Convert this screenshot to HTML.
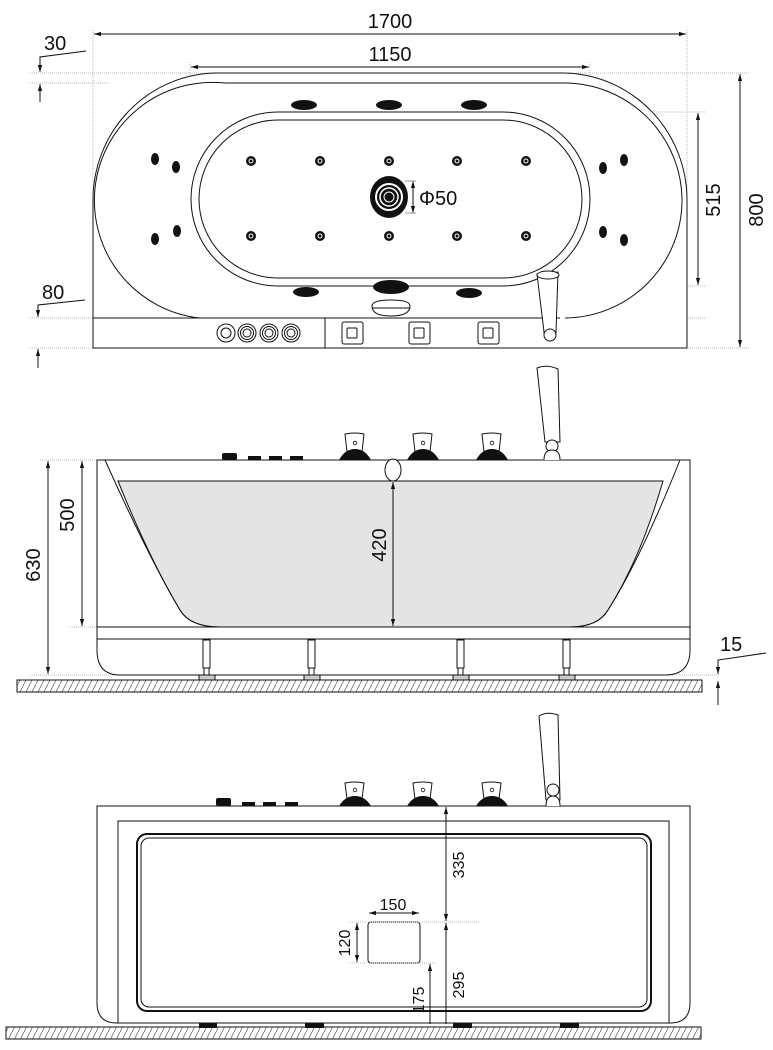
<!DOCTYPE html>
<html><head><meta charset="utf-8"><style>
html,body{margin:0;padding:0;background:#fff;}
svg{display:block;}
text{font-family:"Liberation Sans",Arial,sans-serif;fill:#111;}
</style></head><body>
<svg width="773" height="1050" viewBox="0 0 773 1050" xmlns="http://www.w3.org/2000/svg">
<defs>
<marker id="a" viewBox="0 0 10 10" refX="10" refY="5" markerWidth="7" markerHeight="7" orient="auto-start-reverse"><path d="M0,2 L10,5 L0,8 z" fill="#111"/></marker>
<pattern id="h" width="6" height="12" patternUnits="userSpaceOnUse"><path d="M0,12 L6,0" stroke="#555" stroke-width="0.7"/></pattern>
</defs>
<g fill="none" stroke="#111" stroke-width="1">
<g stroke="#bbb" stroke-dasharray="1,1">
<line x1="93" y1="30" x2="93" y2="348"/><line x1="687" y1="30" x2="687" y2="348"/>
<line x1="190" y1="62" x2="190" y2="318"/><line x1="590" y1="62" x2="590" y2="318"/>
<line x1="30" y1="73" x2="750" y2="73"/><line x1="30" y1="83" x2="110" y2="83"/>
<line x1="590" y1="112" x2="705" y2="112"/><line x1="590" y1="286" x2="705" y2="286"/>
<line x1="30" y1="318" x2="95" y2="318"/><line x1="30" y1="348" x2="750" y2="348"/>
<line x1="560" y1="318" x2="705" y2="318"/>
</g>
<line x1="94" y1="34" x2="686" y2="34" marker-start="url(#a)" marker-end="url(#a)"/>
<line x1="191" y1="67" x2="589" y2="67" marker-start="url(#a)" marker-end="url(#a)"/>
<path d="M93,348 V200 A125,127 0 0 1 218,73 H562 A125,127 0 0 1 687,200 V348 Z" fill="#fff"/>
<path d="M200,318 A118,118 0 0 1 225,83 H565 A118,118 0 0 1 682,200 A118,118 0 0 1 565,318"/>
<line x1="93" y1="318" x2="560" y2="318"/>
<line x1="325" y1="318" x2="325" y2="348"/>
<rect x="191" y="112" width="399" height="174" rx="87"/>
<rect x="199" y="120" width="383" height="158" rx="79"/>
<line x1="698" y1="113" x2="698" y2="285" marker-start="url(#a)" marker-end="url(#a)"/>
<line x1="740" y1="74" x2="740" y2="347" marker-start="url(#a)" marker-end="url(#a)"/>
<line x1="413" y1="181" x2="413" y2="213" marker-start="url(#a)" marker-end="url(#a)"/>
<line x1="405" y1="181" x2="416" y2="181" stroke="#999"/><line x1="405" y1="213" x2="416" y2="213" stroke="#999"/>
<path d="M86,51 L40,57 V62"/><line x1="40" y1="62" x2="40" y2="72" marker-end="url(#a)"/>
<line x1="40" y1="102" x2="40" y2="84" marker-end="url(#a)"/>
<path d="M85,300 L38,305 V310"/><line x1="38" y1="305" x2="38" y2="317" marker-end="url(#a)"/>
<line x1="38" y1="368" x2="38" y2="349" marker-end="url(#a)"/>
</g>
<g fill="#111">
<ellipse cx="304" cy="105" rx="13" ry="5"/><ellipse cx="389" cy="105" rx="13" ry="5"/><ellipse cx="474" cy="105" rx="13" ry="5"/>
<ellipse cx="306" cy="292" rx="13" ry="5"/><ellipse cx="469" cy="293" rx="13" ry="5"/>
<ellipse cx="391" cy="287" rx="18" ry="7"/>
<ellipse cx="155" cy="159" rx="4" ry="6"/><ellipse cx="176" cy="167" rx="4" ry="6"/>
<ellipse cx="155" cy="239" rx="4" ry="6"/><ellipse cx="177" cy="231" rx="4" ry="6"/>
<ellipse cx="603" cy="168" rx="4" ry="6"/><ellipse cx="624" cy="160" rx="4" ry="6"/>
<ellipse cx="603" cy="232" rx="4" ry="6"/><ellipse cx="624" cy="240" rx="4" ry="6"/>
<circle cx="251" cy="161" r="5"/><circle cx="320" cy="161" r="5"/><circle cx="389" cy="161" r="5"/><circle cx="457" cy="161" r="5"/><circle cx="526" cy="161" r="5"/>
<circle cx="251" cy="236" r="5"/><circle cx="320" cy="236" r="5"/><circle cx="389" cy="236" r="5"/><circle cx="457" cy="236" r="5"/><circle cx="526" cy="236" r="5"/>
<ellipse cx="389" cy="197" rx="19" ry="21"/>
</g>
<g fill="none" stroke="#fff" stroke-width="1">
<circle cx="251" cy="161" r="2"/><circle cx="320" cy="161" r="2"/><circle cx="389" cy="161" r="2"/><circle cx="457" cy="161" r="2"/><circle cx="526" cy="161" r="2"/>
<circle cx="251" cy="236" r="2"/><circle cx="320" cy="236" r="2"/><circle cx="389" cy="236" r="2"/><circle cx="457" cy="236" r="2"/><circle cx="526" cy="236" r="2"/>
<circle cx="389" cy="197" r="13" stroke-width="2"/><circle cx="389" cy="197" r="9" stroke-width="1.5"/><circle cx="389" cy="197" r="5"/>
</g>
<g fill="#fff" stroke="#111" stroke-width="1">
<path d="M372,306 Q372,300 391,300 Q410,300 410,306 Q410,316 391,316 Q372,316 372,306 Z"/>
<line x1="372" y1="308" x2="410" y2="308"/>
<circle cx="226" cy="333" r="9"/><circle cx="226" cy="333" r="5"/>
<circle cx="247" cy="333" r="9"/><circle cx="247" cy="333" r="6.5"/><circle cx="247" cy="333" r="4"/>
<circle cx="269" cy="333" r="9"/><circle cx="269" cy="333" r="6.5"/><circle cx="269" cy="333" r="4"/>
<circle cx="291" cy="333" r="9"/><circle cx="291" cy="333" r="6.5"/><circle cx="291" cy="333" r="4"/>
<rect x="342" y="322" width="21" height="22" rx="2"/><rect x="347" y="328" width="10" height="10" rx="1"/>
<rect x="409" y="322" width="21" height="22" rx="2"/><rect x="414" y="328" width="10" height="10" rx="1"/>
<rect x="478" y="322" width="21" height="22" rx="2"/><rect x="483" y="328" width="10" height="10" rx="1"/>
<path d="M537,274 L558,272 L556,332 Q556,340 550,340 Q544,340 544,332 Z"/>
<ellipse cx="548" cy="275" rx="11" ry="4"/>
<circle cx="550" cy="335" r="6"/>
</g>
<g font-size="20">
<text x="390" y="28" text-anchor="middle">1700</text>
<text x="390" y="61" text-anchor="middle">1150</text>
<text x="419" y="205">Φ50</text>
<text x="44" y="50">30</text>
<text x="42" y="299">80</text>
<text transform="translate(720,200) rotate(-90)" text-anchor="middle">515</text>
<text transform="translate(763,210) rotate(-90)" text-anchor="middle">800</text>
</g>

<!-- SIDE VIEW -->
<path d="M118,481 H663 Q640,560 608,610 Q598,627 570,627 H220 Q190,627 180,610 Q150,560 118,481 Z" fill="#e4e4e4" stroke="#111"/>
<g fill="none" stroke="#111" stroke-width="1">
<g stroke="#bbb" stroke-dasharray="1,1"><line x1="40" y1="460" x2="97" y2="460"/><line x1="70" y1="627" x2="97" y2="627"/><line x1="30" y1="675" x2="720" y2="675"/></g>
<path d="M97,460 H690 V650 Q690,675 665,675 H120 Q97,675 97,650 Z"/>
<path d="M105,460 Q150,560 180,610 Q190,627 220,627"/>
<path d="M680,460 Q640,560 608,610 Q598,627 570,627"/>
<line x1="97" y1="627" x2="690" y2="627"/>
<line x1="97" y1="639" x2="690" y2="639"/>
<line x1="48" y1="461" x2="48" y2="674" marker-start="url(#a)" marker-end="url(#a)"/>
<line x1="82" y1="461" x2="82" y2="626" marker-start="url(#a)" marker-end="url(#a)"/>
<line x1="393" y1="482" x2="393" y2="626" marker-start="url(#a)" marker-end="url(#a)"/>
<path d="M766,653 L718,660 V664"/><line x1="718" y1="664" x2="718" y2="674" marker-end="url(#a)"/>
<line x1="718" y1="705" x2="718" y2="681" marker-end="url(#a)"/>
</g>
<g fill="#fff" stroke="#111">
<ellipse cx="393" cy="470" rx="8" ry="11"/>
<rect x="17" y="680" width="685" height="12" fill="url(#h)"/>
<rect x="203" y="640" width="7" height="28"/><rect x="308" y="640" width="7" height="28"/><rect x="457" y="640" width="7" height="28"/><rect x="563" y="640" width="7" height="28"/>
<rect x="199" y="675" width="16" height="5" fill="#ccc"/><rect x="304" y="675" width="16" height="5" fill="#ccc"/><rect x="453" y="675" width="16" height="5" fill="#ccc"/><rect x="559" y="675" width="16" height="5" fill="#ccc"/>
<rect x="204" y="668" width="5" height="7"/><rect x="309" y="668" width="5" height="7"/><rect x="458" y="668" width="5" height="7"/><rect x="564" y="668" width="5" height="7"/>
<path d="M537,368 Q547,364 558,369 L560,442 L545,442 Z"/>
<circle cx="552" cy="446" r="6"/><path d="M544,460 Q544,450 552,450 Q560,450 560,460"/>
<path d="M345,434 Q355,432 364,434 L362,452 H347 Z"/><path d="M413,434 Q423,432 432,434 L430,452 H415 Z"/><path d="M482,434 Q492,432 501,434 L499,452 H484 Z"/>
</g>
<g fill="#111">
<path d="M339,460 Q345,449 355,449 Q365,449 371,460 Z"/><path d="M407,460 Q413,449 423,449 Q433,449 439,460 Z"/><path d="M476,460 Q482,449 492,449 Q502,449 508,460 Z"/>
<rect x="222" y="453" width="15" height="7" rx="2"/><rect x="248" y="456" width="13" height="4"/><rect x="269" y="456" width="13" height="4"/><rect x="290" y="456" width="13" height="4"/>
</g>
<g fill="#fff" stroke="#111" stroke-width="0.8"><circle cx="355" cy="443" r="1.8"/><circle cx="423" cy="443" r="1.8"/><circle cx="492" cy="443" r="1.8"/></g>
<g font-size="20">
<text transform="translate(40,565) rotate(-90)" text-anchor="middle">630</text>
<text transform="translate(74,515) rotate(-90)" text-anchor="middle">500</text>
<text transform="translate(386,545) rotate(-90)" text-anchor="middle">420</text>
<text x="720" y="651">15</text>
</g>

<!-- FRONT VIEW -->
<g fill="none" stroke="#111" stroke-width="1">
<path d="M97,806 H690 V1003 Q690,1023 670,1023 H117 Q97,1023 97,1003 Z"/>
<path d="M118,1023 V821 H669 V1023"/>
<rect x="137" y="834" width="514" height="177" rx="10" stroke-width="2"/>
<rect x="141" y="838" width="506" height="169" rx="8"/>
<rect x="368" y="922" width="52" height="41" rx="3"/>
<g stroke="#bbb" stroke-dasharray="1,1"><line x1="350" y1="922" x2="480" y2="922"/><line x1="350" y1="963" x2="435" y2="963"/></g>
<line x1="446" y1="807" x2="446" y2="921" marker-start="url(#a)" marker-end="url(#a)"/>
<line x1="446" y1="923" x2="446" y2="1024" marker-start="url(#a)"/>
<line x1="430" y1="964" x2="430" y2="1024" marker-start="url(#a)"/>
<line x1="369" y1="913" x2="419" y2="913" marker-start="url(#a)" marker-end="url(#a)"/>
<line x1="357" y1="923" x2="357" y2="962" marker-start="url(#a)" marker-end="url(#a)"/>
</g>
<g fill="#fff" stroke="#111">
<rect x="6" y="1027" width="695" height="12" fill="url(#h)"/>
<path d="M539,716 Q547,711 558,715 L560,800 L546,800 Z"/>
<circle cx="553" cy="790" r="6"/><path d="M546,806 Q546,796 553,796 Q560,796 560,806"/>
<path d="M345,783 Q355,781 364,783 L362,799 H347 Z"/><path d="M413,783 Q423,781 432,783 L430,799 H415 Z"/><path d="M482,783 Q492,781 501,783 L499,799 H484 Z"/>
</g>
<g fill="#111">
<path d="M339,806 Q345,796 355,796 Q365,796 371,806 Z"/><path d="M407,806 Q413,796 423,796 Q433,796 439,806 Z"/><path d="M476,806 Q482,796 492,796 Q502,796 508,806 Z"/>
<rect x="216" y="798" width="15" height="8" rx="2"/><rect x="242" y="802" width="13" height="4"/><rect x="263" y="802" width="13" height="4"/><rect x="285" y="802" width="13" height="4"/>
<rect x="199" y="1023" width="18" height="5"/><rect x="305" y="1023" width="19" height="5"/><rect x="453" y="1023" width="19" height="5"/><rect x="560" y="1023" width="19" height="5"/>
</g>
<g fill="#fff" stroke="#111" stroke-width="0.8"><circle cx="355" cy="790" r="1.8"/><circle cx="423" cy="790" r="1.8"/><circle cx="492" cy="790" r="1.8"/></g>
<g font-size="16">
<text transform="translate(464,865) rotate(-90)" text-anchor="middle">335</text>
<text transform="translate(464,985) rotate(-90)" text-anchor="middle">295</text>
<text transform="translate(424,1000) rotate(-90)" text-anchor="middle">175</text>
<text transform="translate(350,943) rotate(-90)" text-anchor="middle">120</text>
<text x="393" y="910" text-anchor="middle">150</text>
</g>
</svg>
</body></html>
